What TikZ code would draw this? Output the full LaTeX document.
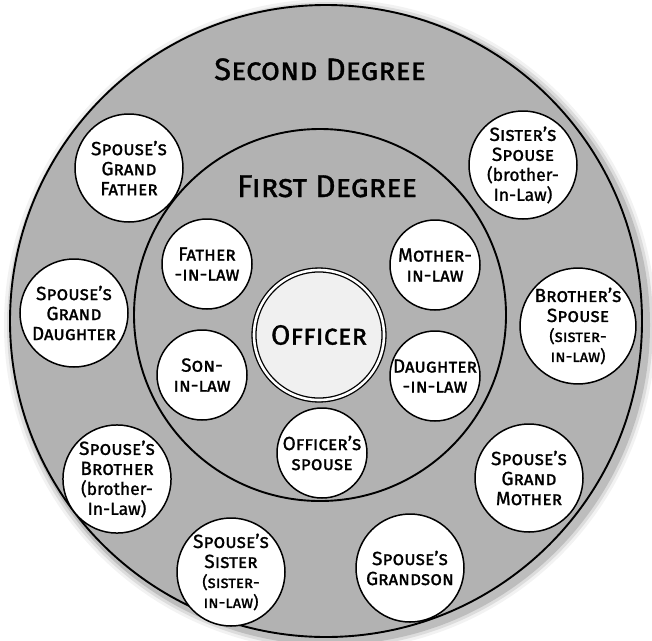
\documentclass[tikz,border=0pt]{standalone}
\usepackage{fontspec}
\setmainfont{Fira Sans}
\usetikzlibrary{positioning}
\definecolor{ringgray}{gray}{0.7}
\definecolor{selfgray}{gray}{0.94}
\newcommand\heavy{\addfontfeature{FakeBold=1.1}}
\newcommand\kinnote[1]{{\upshape\heavy\fontsize{17.5}{18}\selectfont #1}}
\newcommand\kinsmall[1]{{\fontsize{16.5}{17}\selectfont #1}}
\tikzset{
  ring/.style={circle,draw=black,line width=1.9pt,fill=ringgray,inner sep=0pt},
  kin/.style={circle,draw=black,line width=1.5pt,fill=white,inner sep=0pt,
    minimum size=#1,align=center,font=\fontsize{19}{20}\selectfont\scshape\heavy},
  kin/.default=108pt,
  self/.style={circle,draw=black,line width=1.3pt,double=white,double distance=2.6pt,
    fill=selfgray,inner sep=0pt,minimum size=130pt,font=\fontsize{28}{30}\selectfont\scshape\heavy},
  degree/.style={anchor=base,inner sep=0pt,font=\fontsize{31}{34}\selectfont\scshape\heavy},
}
\begin{document}
\begin{tikzpicture}[x=1pt,y=-1pt]
  \useasboundingbox (0,0) rectangle (652,640);
  % soft halo
  \foreach \d/\o in {10/0.05,7/0.09,4/0.14}
    \fill[black,opacity=\o] (330,325) circle[radius=316+\d];
  \node[ring,minimum size=632pt] (second) at (326,321) {};
  \node[ring,minimum size=372pt] (first) at (320,315) {};
  \node[degree] (secondlbl) at (320,80) {Second Degree};
  \node[degree,font=\fontsize{31.5}{34}\selectfont\scshape\heavy] (firstlbl) at (327,197) {First Degree};
  % first degree
  \node[kin=90pt] (fil) at (207,264) {Father\\-in-law};
  \node[kin=90pt] (mil) at (435,265) {Mother-\\in-law};
  \node[kin=90pt] (sil) at (202,375) {Son-\\in-law};
  \node[kin=90pt] (dil) at (435,376) {Daughter\\-in-law};
  \node[kin=90pt] (osp) at (322,453) {Officer’s\\spouse};
  % second degree
  \node[kin] (sgf) at (129,168) {Spouse’s\\Grand\\Father};
  \node[kin] (ssp) at (523,165) {Sister’s\\Spouse\\\kinnote{(brother-}\\\kinnote{In-Law)}};
  \node[kin] (sgd) at (74,313) {Spouse’s\\Grand\\Daughter};
  \node[kin] (bsp) at (578,326) {Brother’s\\Spouse\\\kinsmall{(sister-}\\\kinsmall{in-law)}};
  \node[kin] (sbr) at (117,479) {Spouse’s\\Brother\\\kinnote{(brother-}\\\kinnote{In-Law)}};
  \node[kin] (sgm) at (529,478) {Spouse’s\\Grand\\Mother};
  \node[kin] (sss) at (231,572) {Spouse’s\\Sister\\\kinsmall{(sister-}\\\kinsmall{in-law)}};
  \node[kin] (sgs) at (410,568) {Spouse’s\\Grandson};
  % the officer
  \node[self] (officer) at (319,335) {Officer};
\end{tikzpicture}
\end{document}
